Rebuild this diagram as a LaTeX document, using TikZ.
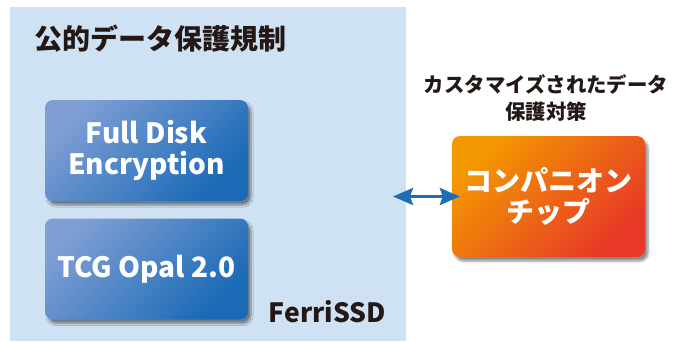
\documentclass[tikz,border=0pt]{standalone}
\usepackage{fontspec}
\setmainfont{Noto Sans CJK JP}
\newfontfamily\cjk{Noto Sans CJK JP}
\usetikzlibrary{positioning,shadows.blur,arrows.meta}

\definecolor{panelblue}{HTML}{CFE2F3}
\definecolor{boxlight}{HTML}{7E9ED4}
\definecolor{boxdark}{HTML}{1A6AB6}
\definecolor{chiplight}{HTML}{F39800}
\definecolor{chipdark}{HTML}{E83828}
\definecolor{linkblue}{HTML}{1A6DB6}
\definecolor{inkdark}{HTML}{231815}

\begin{document}
\begin{tikzpicture}[x=1pt,y=-1pt,
  boxshadow/.style={blur shadow={shadow xshift=3pt,shadow yshift=-4pt,
      shadow blur steps=6,shadow opacity=45}},
  stdbox/.style={boxshadow,rounded corners=8pt,top color=boxlight,
      bottom color=boxdark,shading angle=45,minimum width=203pt,
      minimum height=101pt,text=white,align=center,
      font=\bfseries\fontsize{28}{31}\selectfont},
  chipbox/.style={boxshadow,rounded corners=8pt,top color=chiplight,
      bottom color=chipdark,shading angle=45,minimum width=193pt,
      minimum height=121pt,text=white,align=center,
      font=\cjk\bfseries\fontsize{28}{31}\selectfont},
  caption/.style={inner sep=0pt,text=inkdark}]
  \useasboundingbox (0,0) rectangle (678,341);
  % light blue panel
  \node[fill=panelblue,inner sep=0pt,minimum width=396pt,minimum height=334pt,
    anchor=north west] (panel) at (10,7) {};
  \node[caption,anchor=west,font=\cjk\bfseries\fontsize{28}{31}\selectfont]
    (rule) at (34,39) {公的データ保護規制};
  % standards inside the SSD
  \node[stdbox] (fde) at (146.5,150.5) {Full Disk\\Encryption};
  \node[stdbox] (opal) at (146.5,269) {TCG Opal 2.0};
  \node[caption,anchor=east,font=\bfseries\fontsize{26.5}{30}\selectfont]
    (ssd) at (386,312) {FerriSSD};
  % companion chip
  \node[chipbox] (chip) at (548.5,196.5) {コンパニオン\\チップ};
  \node[caption,align=center,font=\cjk\bfseries\fontsize{20.4}{26.5}\selectfont]
    (custom) at (546,98) {カスタマイズされたデータ\\保護対策};
  \coordinate (link) at (393,196.5);
  \draw[linkblue,line width=3pt,shorten >=-8pt,
    {Stealth[length=20pt,width=17pt,inset=3pt]}-{Stealth[length=20pt,width=17pt,inset=3pt]}]
    (link) -- (chip.west);
\end{tikzpicture}
\end{document}
